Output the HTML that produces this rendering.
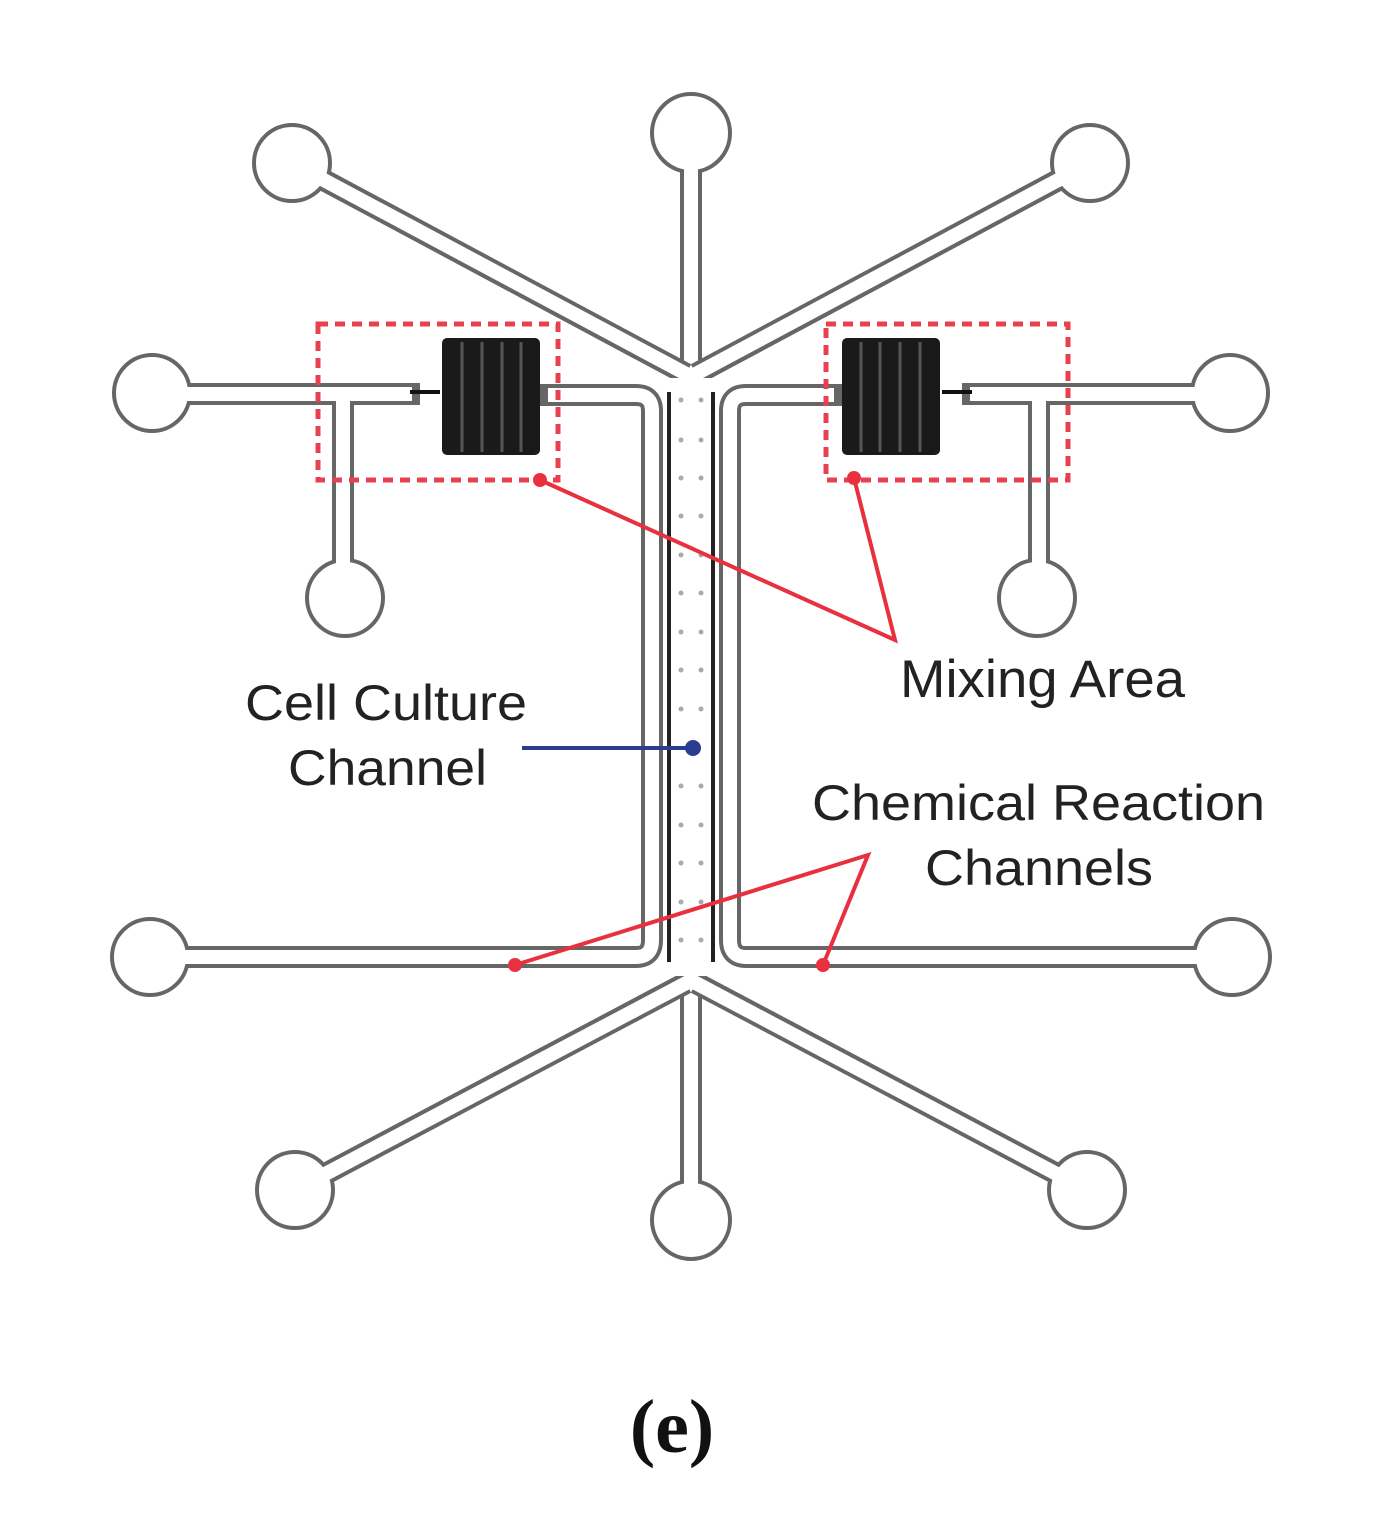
<!DOCTYPE html>
<html><head><meta charset="utf-8"><style>
html,body{margin:0;padding:0;background:#fff;}
svg{display:block;}
text{font-family:"Liberation Sans",Arial,sans-serif;fill:#222;}
</style></head><body>
<svg width="1388" height="1536" viewBox="0 0 1388 1536" xmlns="http://www.w3.org/2000/svg">
<defs>
<g id="half">
  <g fill="none" stroke="#666" stroke-width="22" stroke-linejoin="round">
    <path d="M292,163 L686,374"/>
    <path d="M686,983 L295,1190"/>
    <path d="M152,394 L420,394"/>
    <path d="M343,394 L343,565"/>
    <path d="M540,395 L636,395 Q652,395 652,411 L652,940 Q652,957 636,957 L152,957"/>
  </g>
  <g fill="#fff" stroke="#666" stroke-width="4">
    <circle cx="152" cy="393" r="38"/>
    <circle cx="345" cy="598" r="38"/>
    <circle cx="292" cy="163" r="38"/>
    <circle cx="295" cy="1190" r="38"/>
    <circle cx="150" cy="957" r="38"/>
  </g>
  <g fill="none" stroke="#fff" stroke-width="14" stroke-linejoin="round">
    <path d="M292,163 L692,377"/>
    <path d="M692,980 L295,1190"/>
    <path d="M152,394 L412,394"/>
    <path d="M343,394 L343,575"/>
    <path d="M548,395 L636,395 Q652,395 652,411 L652,940 Q652,957 636,957 L152,957"/>
  </g>
  <path d="M410,392 L440,392" stroke="#111" stroke-width="4"/>
  <rect x="442" y="338" width="98" height="117" rx="5" fill="#1a1a1a"/>
  <g stroke="#555" stroke-width="3">
    <line x1="462" y1="342" x2="462" y2="452"/>
    <line x1="482" y1="342" x2="482" y2="452"/>
    <line x1="502" y1="342" x2="502" y2="452"/>
    <line x1="521" y1="342" x2="521" y2="452"/>
  </g>
</g>
</defs>

<g fill="none" stroke="#666" stroke-width="22">
  <path d="M691,150 L691,380"/>
  <path d="M691,975 L691,1200"/>
</g>
<g fill="#fff" stroke="#666" stroke-width="4">
  <circle cx="691" cy="133" r="39"/>
  <circle cx="691" cy="1220" r="39"/>
</g>
<g fill="none" stroke="#fff" stroke-width="14">
  <path d="M691,150 L691,385"/>
  <path d="M691,970 L691,1205"/>
</g>

<use href="#half"/>
<use href="#half" transform="translate(1382,0) scale(-1,1)"/>

<rect x="670" y="378" width="42" height="598" fill="#fff"/>
<line x1="669" y1="392" x2="669" y2="962" stroke="#222" stroke-width="4"/>
<line x1="713" y1="392" x2="713" y2="962" stroke="#222" stroke-width="4"/>
<g fill="#aaa">
  <circle cx="681" cy="400" r="2.5"/><circle cx="701" cy="400" r="2.5"/>
  <circle cx="681" cy="440" r="2.5"/><circle cx="701" cy="440" r="2.5"/>
  <circle cx="681" cy="478" r="2.5"/><circle cx="701" cy="478" r="2.5"/>
  <circle cx="681" cy="516" r="2.5"/><circle cx="701" cy="516" r="2.5"/>
  <circle cx="681" cy="555" r="2.5"/><circle cx="701" cy="555" r="2.5"/>
  <circle cx="681" cy="593" r="2.5"/><circle cx="701" cy="593" r="2.5"/>
  <circle cx="681" cy="632" r="2.5"/><circle cx="701" cy="632" r="2.5"/>
  <circle cx="681" cy="670" r="2.5"/><circle cx="701" cy="670" r="2.5"/>
  <circle cx="681" cy="709" r="2.5"/><circle cx="701" cy="709" r="2.5"/>
  <circle cx="681" cy="786" r="2.5"/><circle cx="701" cy="786" r="2.5"/>
  <circle cx="681" cy="825" r="2.5"/><circle cx="701" cy="825" r="2.5"/>
  <circle cx="681" cy="863" r="2.5"/><circle cx="701" cy="863" r="2.5"/>
  <circle cx="681" cy="902" r="2.5"/><circle cx="701" cy="902" r="2.5"/>
  <circle cx="681" cy="940" r="2.5"/><circle cx="701" cy="940" r="2.5"/>
</g>

<g fill="none" stroke="#e8404f" stroke-width="5" stroke-dasharray="10,7">
  <rect x="318" y="324" width="240" height="156"/>
  <rect x="826" y="324" width="242" height="156"/>
</g>
<g stroke="#e8303f" stroke-width="4" fill="none">
  <polyline points="540,480 895,640 854,478"/>
  <polyline points="515,965 868,855 823,965"/>
</g>
<g fill="#e8303f">
  <circle cx="540" cy="480" r="7"/>
  <circle cx="854" cy="478" r="7"/>
  <circle cx="515" cy="965" r="7"/>
  <circle cx="823" cy="965" r="7"/>
</g>
<line x1="522" y1="748" x2="692" y2="748" stroke="#2a3d8f" stroke-width="4"/>
<circle cx="693" cy="748" r="8" fill="#2a3d8f"/>

<text x="900" y="697" font-size="53" textLength="285" lengthAdjust="spacingAndGlyphs">Mixing Area</text>
<text x="245" y="720" font-size="50" textLength="282" lengthAdjust="spacingAndGlyphs">Cell Culture</text>
<text x="288" y="785" font-size="50" textLength="199" lengthAdjust="spacingAndGlyphs">Channel</text>
<text x="812" y="820" font-size="50" textLength="453" lengthAdjust="spacingAndGlyphs">Chemical Reaction</text>
<text x="925" y="885" font-size="50" textLength="228" lengthAdjust="spacingAndGlyphs">Channels</text>

<text x="672" y="1452" font-size="76" text-anchor="middle" style="font-family:'Liberation Serif',serif;font-weight:bold;fill:#111">(e)</text>
</svg>
</body></html>
